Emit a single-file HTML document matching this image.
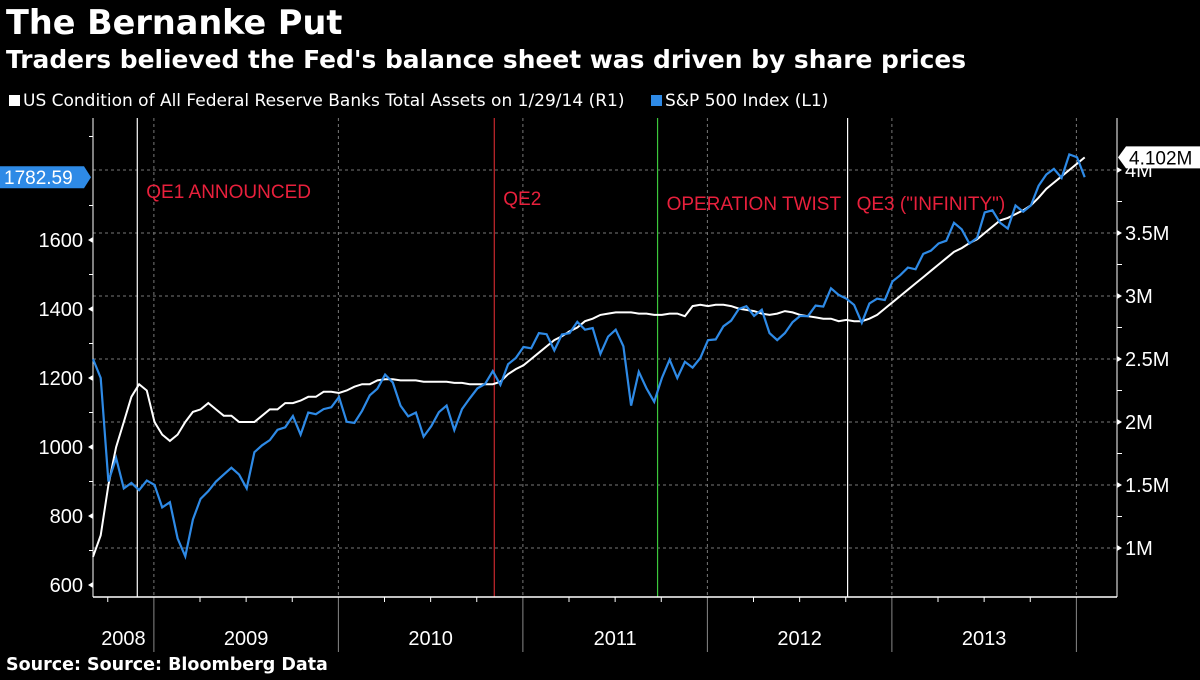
<!DOCTYPE html>
<html><head><meta charset="utf-8"><style>
body{margin:0;background:#000;width:1200px;height:675px;overflow:hidden;font-family:"Liberation Sans",sans-serif;color:#fff}
svg text{font-family:"Liberation Sans Narrow","Liberation Sans",sans-serif}
</style></head><body>
<svg id="c" width="1200" height="675">
<text x="6" y="34" font-size="33.5" font-weight="bold" fill="#fff" style="font-family:'DejaVu Sans',sans-serif">The Bernanke Put</text>
<text x="6" y="68" font-size="24.9" font-weight="bold" fill="#fff" style="font-family:'DejaVu Sans',sans-serif">Traders believed the Fed's balance sheet was driven by share prices</text>
<g>
<rect x="9" y="95" width="11" height="11" fill="#fff"/>
<text x="23" y="106" font-size="17" fill="#fff" style="font-family:'DejaVu Sans',sans-serif">US Condition of All Federal Reserve Banks Total Assets  on 1/29/14 (R1)</text>
<rect x="651" y="95" width="11" height="11" fill="#2e8ae6"/>
<text x="665" y="106" font-size="17" fill="#fff" style="font-family:'DejaVu Sans',sans-serif">S&amp;P 500 Index  (L1)</text>
</g>
<text x="6" y="670" font-size="17.5" font-weight="bold" fill="#fff" style="font-family:'DejaVu Sans',sans-serif">Source: Source: Bloomberg Data</text>
</svg>
<script>
const startYear = 2008.67;
const stepYears = 1/24;
const spx = [1255,1200, 900,968, 880,896, 875,903,
 890,825, 840,735, 683,790, 850,872, 900,920, 940,920, 880,985, 1005,1020, 1050,1057, 1090,1036, 1100,1095, 1110,1115,
 1145,1073, 1070,1105, 1150,1169, 1210,1187, 1120,1089, 1100,1030, 1060,1101, 1120,1049, 1110,1141, 1170,1183, 1220,1180, 1240,1258,
 1290,1286, 1330,1327, 1280,1326, 1330,1363, 1340,1345, 1270,1320, 1340,1292, 1120,1218, 1170,1131, 1200,1253, 1200,1247, 1230,1258,
 1310,1312, 1350,1366, 1400,1408, 1380,1398, 1330,1310, 1330,1362, 1380,1379, 1410,1407, 1460,1441, 1430,1412, 1360,1416, 1430,1426,
 1480,1498, 1520,1515, 1560,1569, 1590,1598, 1650,1631, 1590,1606, 1680,1686, 1650,1633, 1700,1682, 1700,1757, 1790,1806, 1780,1848,
 1840,1782];
const fed = [0.93,1.1, 1.5,1.8, 2.0,2.2, 2.3,2.25,
 2.0,1.9, 1.85,1.9, 2.0,2.08, 2.1,2.15, 2.1,2.05, 2.05,2.0, 2.0,2.0, 2.05,2.1, 2.1,2.15, 2.15,2.17, 2.2,2.2, 2.24,2.24,
 2.23,2.25, 2.28,2.3, 2.3,2.33, 2.34,2.34, 2.33,2.33, 2.33,2.32, 2.32,2.32, 2.32,2.31, 2.31,2.3, 2.3,2.3, 2.3,2.32, 2.38,2.42,
 2.45,2.5, 2.55,2.6, 2.65,2.68, 2.72,2.75, 2.8,2.82, 2.85,2.86, 2.87,2.87, 2.87,2.86, 2.86,2.85, 2.85,2.86, 2.86,2.84, 2.92,2.93,
 2.92,2.93, 2.93,2.92, 2.9,2.89, 2.88,2.86, 2.85,2.86, 2.88,2.87, 2.85,2.84, 2.83,2.82, 2.82,2.8, 2.81,2.8, 2.8,2.82, 2.85,2.9,
 2.95,3.0, 3.05,3.1, 3.15,3.2, 3.25,3.3, 3.35,3.38, 3.42,3.45, 3.5,3.55, 3.6,3.62, 3.65,3.68, 3.72,3.78, 3.85,3.9, 3.95,4.0,
 4.05,4.1];
const leftTicks = [600,800,1000,1200,1400,1600];
const rightTicks = [1,1.5,2,2.5,3,3.5,4];
const rightTickLabels = ["1M","1.5M","2M","2.5M","3M","3.5M","4M"];
const years = [2008,2009,2010,2011,2012,2013];
const eventNames = ["QE1 ANNOUNCED","QE2","OPERATION TWIST","QE3 (\"INFINITY\")"];
const eventDates = [2008.91,2010.845,2011.73,2012.76];
const eventColors = ["#fff","#c8282e","#3cc83c","#fff"];
const lastSpx = "1782.59", lastFed = "4.102M";

const X0=93, X1=1117, YT=118, YB=597;
const xOf = y => 93 + (y - startYear) * 184.5;
const yL = v => 585 - (v - 600) * 0.345;
const yR = m => 548 - (m - 1) * 126;
const svg = document.getElementById('c');
const NS = "http://www.w3.org/2000/svg";
function mk(tag, attrs, parent){const e=document.createElementNS(NS,tag);for(const k in attrs)e.setAttribute(k,attrs[k]);(parent||svg).appendChild(e);return e;}

rightTicks.forEach((m,i)=>{
 const l=mk('line',{x1:X0,x2:X1,y1:yR(m),y2:yR(m),stroke:'#777','stroke-dasharray':'3,3','stroke-width':1});
 
 
 const t=mk('text',{x:1125,y:yR(m)+7,'font-size':20,fill:'#fff'});t.textContent=rightTickLabels[i];
 
 
 mk('path',{d:`M${X1} ${yR(m)-3}L${X1+5} ${yR(m)}L${X1} ${yR(m)+3}Z`,fill:'#fff'});
});
for(let m=1.25;m<4.2;m+=0.5){mk('line',{x1:X1,x2:X1+5,y1:yR(m),y2:yR(m),stroke:'#fff'});}
years.concat([2014]).forEach(y=>{
 const x=xOf(y); if(y>2008){
 const g=mk('line',{x1:x,x2:x,y1:YT,y2:YB,stroke:'#777','stroke-dasharray':'3,3'});
 
 
 mk('line',{x1:x,x2:x,y1:YB,y2:652,stroke:'#888'});}
});
years.forEach(y=>{
 const a=Math.max(xOf(y),X0), b=Math.min(xOf(y+1),X1);
 const t=mk('text',{x:(a+b)/2,y:645,'font-size':20,fill:'#fff','text-anchor':'middle'});t.textContent=y;
 
 
 for(let q=1;q<4;q++){const x=xOf(y+q/4);if(x>X0&&x<X1)mk('line',{x1:x,x2:x,y1:YB,y2:YB+5,stroke:'#fff'});}
});
eventDates.forEach((d,i)=>{
 const x=xOf(d);
 const l=mk('line',{x1:x,x2:x,y1:YT,y2:YB,stroke:eventColors[i],'stroke-width':1.2});
 
 
 const t=mk('text',{x:x+9,y:[198,205,210,210][i],'font-size':19,fill:'#e8203c'});t.textContent=eventNames[i];
 
 
});
mk('line',{x1:X0,x2:X0,y1:YT,y2:YB,stroke:'#fff'});
mk('line',{x1:X1,x2:X1,y1:YT,y2:YB,stroke:'#fff'});
mk('line',{x1:X0,x2:X1,y1:YB,y2:YB,stroke:'#fff','stroke-width':1.5});
leftTicks.forEach(v=>{
 const t=mk('text',{x:83,y:yL(v)+7,'font-size':20,fill:'#fff','text-anchor':'end'});t.textContent=v;
 
 
 mk('path',{d:`M${X0} ${yL(v)-3}L${X0-5} ${yL(v)}L${X0} ${yL(v)+3}Z`,fill:'#fff'});
});
for(let v=700;v<=1900;v+=200){mk('line',{x1:X0-4,x2:X0,y1:yL(v),y2:yL(v),stroke:'#fff'});}
const ptsF=fed.map((m,i)=>`${xOf(startYear+i*stepYears).toFixed(1)},${yR(m).toFixed(1)}`).join(' ');
const pf=mk('polyline',{points:ptsF,fill:'none',stroke:'#fff','stroke-width':2});


const ptsS=spx.map((v,i)=>`${xOf(startYear+i*stepYears).toFixed(1)},${yL(v).toFixed(1)}`).join(' ');
const ps=mk('polyline',{points:ptsS,fill:'none',stroke:'#2e8ae6','stroke-width':2.2});


const ys=yL(spx[spx.length-1]);
const tg=mk('path',{d:`M0 ${ys-11}H84L91 ${ys}L84 ${ys+11}H0Z`,fill:'#2e8ae6'});


const tt=mk('text',{x:4,y:ys+7,'font-size':19,fill:'#fff'});tt.textContent=lastSpx;
const yf=yR(fed[fed.length-1]);
const rg=mk('path',{d:`M1118 ${yf}L1126 ${yf-11}H1200V${yf+11}H1126Z`,fill:'#fff'});


const rt=mk('text',{x:1129,y:yf+7,'font-size':19,fill:'#000'});rt.textContent=lastFed;
</script>
</body></html>
